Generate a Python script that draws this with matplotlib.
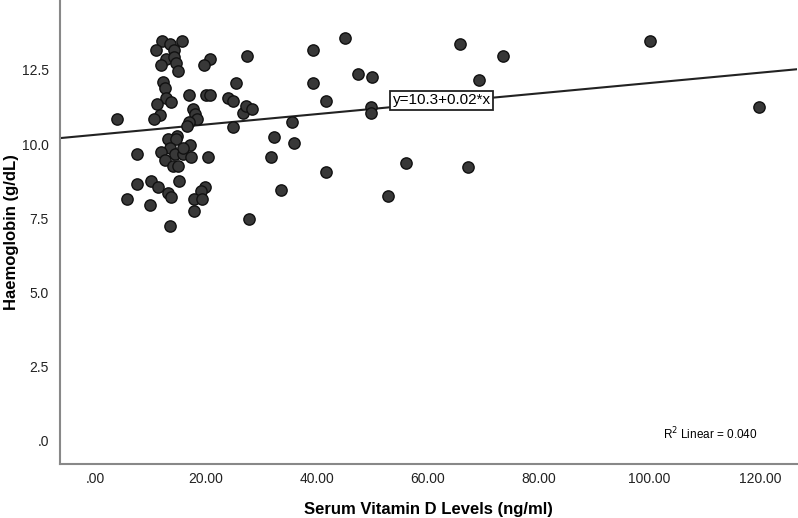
import numpy as np
import matplotlib.pyplot as plt

plt.rcParams['font.family'] = ['Liberation Sans', 'DejaVu Sans']

# serum vitamin D (ng/ml) and haemoglobin (g/dL)
vit_d = [12.1, 13.5, 15.7, 11.0, 14.2, 12.9, 14.2, 11.9, 14.7, 15.0,
         20.7, 19.6, 12.3, 12.7, 17.0, 20.1, 20.7, 12.9, 13.8, 11.1,
         24.0, 24.9, 25.5, 4.0, 11.7, 10.6, 17.7, 18.0, 18.4, 17.0,
         16.6, 24.9, 14.8, 13.2, 14.6, 17.2, 13.5, 12.0, 14.4, 15.8,
         15.9, 7.5, 17.4, 20.4, 12.6, 14.1, 15.0, 7.6, 10.1, 11.3,
         15.2, 13.2, 13.7, 19.8, 19.2, 5.8, 9.9, 17.9, 19.3, 17.8,
         13.5, 27.4, 26.7, 27.3, 28.4, 27.8, 31.7, 32.3, 33.6, 35.5,
         35.9, 39.3, 39.3, 41.6, 41.7, 45.0, 47.4, 50.0, 49.7, 49.7,
         52.9, 56.0, 65.8, 67.3, 69.3, 73.6, 100.0, 119.8]
haemo = [13.48, 13.38, 13.48, 13.18, 13.16, 12.87, 12.93, 12.67, 12.75, 12.48,
         12.87, 12.67, 12.08, 11.88, 11.66, 11.66, 11.66, 11.54, 11.43, 11.35,
         11.56, 11.46, 12.07, 10.84, 10.98, 10.84, 11.17, 11.01, 10.85, 10.75,
         10.62, 10.56, 10.27, 10.16, 10.16, 9.97, 9.85, 9.74, 9.66, 9.66,
         9.85, 9.66, 9.55, 9.55, 9.46, 9.26, 9.26, 8.64, 8.75, 8.54,
         8.75, 8.33, 8.22, 8.54, 8.42, 8.14, 7.94, 8.14, 8.14, 7.74,
         7.24, 12.97, 11.06, 11.28, 11.17, 7.47, 9.55, 10.25, 8.44, 10.75,
         10.04, 13.18, 12.07, 11.46, 9.04, 13.57, 12.36, 12.25, 11.26, 11.06,
         8.24, 9.35, 13.37, 9.23, 12.16, 12.97, 13.47, 11.25]

# fit line as drawn
fit_intercept = 10.31
fit_slope = 0.0175
eq_label = "y=10.3+0.02*x"
r2_label = "R$^2$ Linear = 0.040"

x_ticks = [0, 20, 40, 60, 80, 100, 120]
x_ticklabels = [".00", "20.00", "40.00", "60.00", "80.00", "100.00", "120.00"]
y_ticks = [0, 2.5, 5.0, 7.5, 10.0, 12.5]
y_ticklabels = [".0", "2.5", "5.0", "7.5", "10.0", "12.5"]

fig = plt.figure(figsize=(7.98, 5.18), dpi=100)
ax = fig.add_axes([0.0752, 0.104, 0.9236, 0.8958])

xlim = (-6.3, 126.6)
ax.set_xlim(*xlim)
ax.set_ylim(-0.81, 14.86)

xs = np.array(xlim)
ax.plot(xs, fit_intercept + fit_slope * xs, color='#222222', lw=1.5, zorder=2)

ax.scatter(vit_d, haemo, s=66, facecolor='#383838', edgecolor='#111111',
           linewidths=1.0, zorder=3)

ax.text(62.5, 11.47, eq_label, fontsize=11, ha='center', va='center', zorder=4,
        bbox=dict(boxstyle='square,pad=0.18', facecolor='white',
                  edgecolor='#222222', lw=1.3))
ax.text(0.882, 0.065, r2_label, transform=ax.transAxes, fontsize=8.5,
        ha='center', va='center')

ax.set_xticks(x_ticks)
ax.set_xticklabels(x_ticklabels)
ax.set_yticks(y_ticks)
ax.set_yticklabels(y_ticklabels)
ax.tick_params(length=0, labelsize=10, labelcolor='#222222')
ax.tick_params(axis='x', pad=6)
ax.tick_params(axis='y', pad=8)

for side in ['top', 'right']:
    ax.spines[side].set_visible(False)
for side in ['left', 'bottom']:
    ax.spines[side].set_color('#888888')
    ax.spines[side].set_linewidth(1.5)

ax.set_xlabel("Serum Vitamin D Levels (ng/ml)", fontsize=12, fontweight='bold')
ax.set_ylabel("Haemoglobin (g/dL)", fontsize=12, fontweight='bold')
ax.xaxis.set_label_coords(0.5, -0.082)
ax.yaxis.set_label_coords(-0.056, 0.5)

fig.savefig("out.png", dpi=100)
